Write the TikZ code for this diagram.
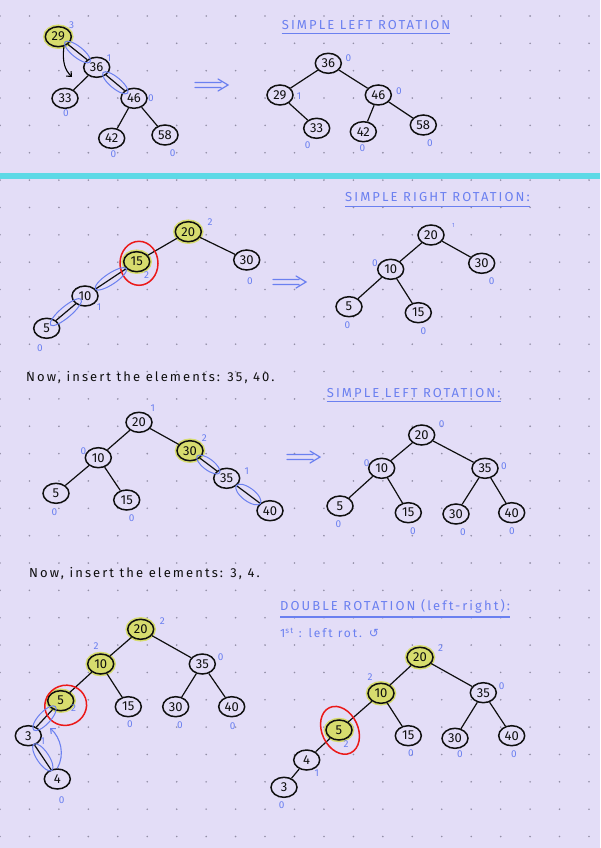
\documentclass[tikz,border=0pt]{standalone}
\usepackage{fontspec}
\setmainfont{Fira Sans}
\newfontfamily\fuenteTitulo[LetterSpace=16]{Fira Sans}
\newfontfamily\fuenteNota[LetterSpace=16]{Fira Sans}
\newfontfamily\fuenteSimbolo{DejaVu Sans}
\usetikzlibrary{arrows.meta}
\usetikzlibrary{shapes.geometric}
\definecolor{hojaFondo}{RGB}{227,221,247}
\definecolor{hojaPunto}{RGB}{146,142,166}
\definecolor{hojaSeparador}{RGB}{93,217,230}
\definecolor{tinta}{RGB}{15,15,15}
\definecolor{boli}{RGB}{107,128,240}
\definecolor{fosforito}{RGB}{215,220,110}
\definecolor{rojo}{RGB}{235,25,25}
\tikzset{
  nodo/.style={
    ellipse, draw=tinta, line width=1.5pt, fill=hojaFondo,
    minimum width=26pt, minimum height=20pt, inner sep=0pt,
    font=\fontsize{13}{13}\selectfont, text=tinta
  },
  nodoh/.style={
    nodo, fill=fosforito, preaction={draw=fosforito, line width=4.5pt}
  },
  arista/.style={draw=tinta, line width=1.2pt},
  fb/.style={text=boli, inner sep=0pt, font=\fontsize{10}{10}\selectfont},
  anillo/.style={
    ellipse, draw=boli, line width=1pt, minimum height=11pt,
    inner sep=0pt, sloped
  },
  cerco/.style={ellipse, draw=rojo, line width=1.5pt, inner sep=0pt},
  titulo/.style={
    anchor=west, inner sep=0pt, text=boli,
    font=\fuenteTitulo\fontsize{13}{13}\selectfont
  },
  subrayado/.style={draw=boli, line width=1.3pt},
  nota/.style={
    anchor=west, inner sep=0pt, text=tinta,
    font=\fuenteNota\fontsize{13}{13}\selectfont
  },
  notab/.style={nota, text=boli, font=\fuenteNota\fontsize{12}{12}\selectfont},
  giro/.style={-{Straight Barb[length=4pt, width=7pt]}, line width=1.1pt},
  implica/.pic={
    \draw[boli, line width=1.2pt, line cap=round]
      (-17,-2.5) -- (9,-2.5) (-17,2.5) -- (9,2.5)
      (6,-6) -- (16,0) -- (6,6);
  }
}

\begin{document}
\begin{tikzpicture}[x=1pt, y=-1pt]
  % hoja punteada
  \fill[hojaFondo] (0,0) rectangle (600,848);
  \useasboundingbox (0,0) rectangle (600,848);
  \foreach \i in {0,...,20}
    \foreach \j in {0,...,30}
      \fill[hojaPunto] (29.45*\i,16+27.35*\j) circle (0.9pt);
  \fill[hojaSeparador] (0,173) rectangle (600,179);

  % 1: antes de rotar
  \node[nodoh] (a29) at (58.3,36.7) {29};
  \node[nodo] (a36) at (96.7,67.3) {36};
  \node[nodo] (a33) at (65,98.3) {33};
  \node[nodo] (a46) at (134,98.3) {46};
  \node[nodo] (a42) at (111.7,138.3) {42};
  \node[nodo] (a58) at (165,135) {58};
  \draw[arista] (a29) -- (a36) (a36) -- (a33) (a36) -- (a46)
    (a46) -- (a42) (a46) -- (a58);
  \node[fb] (a29f) at (71.7,25) {3};
  \node[fb] (a36f) at (109,58) {1};
  \node[fb] (a33f) at (66,112.7) {0};
  \node[fb] (a46f) at (151,98.3) {0};
  \node[fb] (a42f) at (113.3,154) {0};
  \node[fb] (a58f) at (172.7,152.7) {0};
  \path (a29) -- node[anillo, minimum width=32pt] (a29an) {} (a36);
  \path (a36) -- node[anillo, minimum width=32pt] (a36an) {} (a46);
  \coordinate (agiro) at (72,77);
  \draw[giro] (a29.-60) .. controls (62,62) and (65,70) .. (agiro);
  \pic at (212,85) {implica};

  % 1: despues
  \node[titulo] (bTit) at (281.7,25) {SIMPLE LEFT ROTATION};
  \draw[subrayado] ([yshift=-4pt]bTit.south west) -- ([yshift=-4pt]bTit.south east);
  \node[nodo] (b36) at (328.3,63.3) {36};
  \node[nodo] (b29) at (280,95) {29};
  \node[nodo] (b46) at (378.3,95) {46};
  \node[nodo] (b33) at (316.7,128.3) {33};
  \node[nodo] (b42) at (363.3,131.7) {42};
  \node[nodo] (b58) at (423.3,125) {58};
  \draw[arista] (b36) -- (b29) (b36) -- (b46) (b29) -- (b33)
    (b46) -- (b42) (b46) -- (b58);
  \node[fb] (b36f) at (348.3,57.7) {0};
  \node[fb] (b29f) at (299,96) {1};
  \node[fb] (b46f) at (399,91) {0};
  \node[fb] (b33f) at (307.7,145) {0};
  \node[fb] (b42f) at (362.3,147.7) {0};
  \node[fb] (b58f) at (430,142.7) {0};

  % 2: antes de rotar
  \node[nodoh] (c20) at (188.3,231.7) {20};
  \node[nodo] (c30) at (246.7,260) {30};
  \node[nodoh] (c15) at (136.7,261.7) {15};
  \node[nodo] (c10) at (85,296) {10};
  \node[nodo] (c5) at (46.7,328.3) {5};
  \draw[arista] (c20) -- (c15) (c20) -- (c30) (c15) -- (c10) (c10) -- (c5);
  \node[fb] (c20f) at (210,221.7) {2};
  \node[fb] (c30f) at (250,281) {0};
  \node[fb] (c15f) at (146.7,275) {2};
  \node[fb] (c10f) at (99,306.7) {1};
  \node[fb] (c5f) at (40,347.7) {0};
  \node[cerco, minimum width=38pt, minimum height=44pt] (c15r) at (139,263.3) {};
  \path (c15) -- node[anillo, minimum width=37pt] (c15an) {} (c10);
  \path (c10) -- node[anillo, minimum width=40pt] (c10an) {} (c5);
  \pic at (290,282) {implica};

  % 2: despues
  \node[titulo] (dTit) at (345,197.5) {SIMPLE RIGHT ROTATION:};
  \draw[subrayado] ([yshift=-4pt]dTit.south west) -- ([yshift=-4pt]dTit.south east);
  \node[nodo] (d20) at (431,235) {20};
  \node[nodo] (d30) at (481.7,263.3) {30};
  \node[nodo] (d10) at (390.7,269.3) {10};
  \node[nodo] (d5) at (349,306.7) {5};
  \node[nodo] (d15) at (418.3,312.7) {15};
  \draw[arista] (d20) -- (d10) (d20) -- (d30) (d10) -- (d5) (d10) -- (d15);
  \node[fb, font=\fontsize{6}{6}\selectfont] (d20f) at (453.3,225) {1};
  \node[fb] (d30f) at (491.7,281) {0};
  \node[fb] (d10f) at (375,263.3) {0};
  \node[fb] (d5f) at (347.3,325) {0};
  \node[fb] (d15f) at (423.3,330.7) {0};

  \node[nota] (ins1) at (26,378) {Now, insert the elements: 35, 40.};

  % 3: antes de rotar
  \node[nodo] (e20) at (139,422.3) {20};
  \node[nodo] (e10) at (98.3,457.7) {10};
  \node[nodoh] (e30) at (190,450.7) {30};
  \node[nodo] (e35) at (226.7,478.3) {35};
  \node[nodo] (e40) at (270,510.7) {40};
  \node[nodo] (e5) at (56,493.3) {5};
  \node[nodo] (e15) at (126.7,500) {15};
  \draw[arista] (e20) -- (e10) (e20) -- (e30) (e10) -- (e5) (e10) -- (e15)
    (e30) -- (e35) (e35) -- (e40);
  \node[fb] (e20f) at (152.7,408.3) {1};
  \node[fb] (e10f) at (83.3,451) {0};
  \node[fb] (e30f) at (204.3,437.7) {2};
  \node[fb] (e35f) at (246.7,471) {1};
  \node[fb] (e5f) at (54.3,511.7) {0};
  \node[fb] (e15f) at (131.7,517.7) {0};
  \path (e30) -- node[anillo, minimum width=28pt] (e30an) {} (e35);
  \path (e35) -- node[anillo, minimum width=30pt, minimum height=13pt] (e35an) {} (e40);
  \pic at (304,457) {implica};

  % 3: despues
  \node[titulo] (fTit) at (326.7,393) {SIMPLE LEFT ROTATION:};
  \draw[subrayado] ([yshift=-4pt]fTit.south west) -- ([yshift=-4pt]fTit.south east);
  \node[nodo] (f20) at (421.7,435) {20};
  \node[nodo] (f10) at (381.7,468.3) {10};
  \node[nodo] (f35) at (485,468.3) {35};
  \node[nodo] (f5) at (340,506) {5};
  \node[nodo] (f15) at (408.3,512.7) {15};
  \node[nodo] (f30) at (456,514) {30};
  \node[nodo] (f40) at (511.7,512.7) {40};
  \draw[arista] (f20) -- (f10) (f20) -- (f35) (f10) -- (f5) (f10) -- (f15)
    (f35) -- (f30) (f35) -- (f40);
  \node[fb] (f20f) at (441.7,424) {0};
  \node[fb] (f10f) at (366.7,463.3) {0};
  \node[fb] (f35f) at (504,466) {0};
  \node[fb] (f5f) at (338.3,524) {0};
  \node[fb] (f15f) at (413,531) {0};
  \node[fb] (f30f) at (463,532) {0};
  \node[fb] (f40f) at (512,531) {0};

  \node[nota] (ins2) at (29,574) {Now, insert the elements: 3, 4.};

  % 4: antes de rotar
  \node[nodoh] (g20) at (140.7,629.3) {20};
  \node[nodoh] (g10) at (100.7,664) {10};
  \node[nodo] (g35) at (202.3,664) {35};
  \node[nodoh] (g5) at (60.7,700.7) {5};
  \node[nodo] (g15) at (128.3,706.7) {15};
  \node[nodo] (g30) at (175.7,706.7) {30};
  \node[nodo] (g40) at (231.7,706.7) {40};
  \node[nodo] (g3) at (28.3,735.7) {3};
  \node[nodo] (g4) at (57.3,779) {4};
  \draw[arista] (g20) -- (g10) (g20) -- (g35) (g10) -- (g5) (g10) -- (g15)
    (g35) -- (g30) (g35) -- (g40) (g5) -- (g3) (g3) -- (g4);
  \node[fb] (g20f) at (162.3,620.7) {2};
  \node[fb] (g10f) at (96,645.7) {2};
  \node[fb] (g35f) at (220.7,657.3) {0};
  \node[fb] (g5f) at (73.5,708.3) {2};
  \node[fb] (g15f) at (130,724.3) {0};
  \node[fb] (g30f) at (180,725) {0};
  \node[fb] (g40f) at (232.7,725.7) {0};
  \node[fb] (g3f) at (42.7,740.7) {1};
  \node[fb] (g4f) at (61.7,800) {0};
  \node[cerco, minimum width=42pt, minimum height=40pt, rotate=20] (g5r) at (65.7,705.3) {};
  \path (g5) -- node[anillo, minimum width=32pt, minimum height=12pt] (g5an) {} (g3);
  \path (g3) -- node[anillo, minimum width=32pt, minimum height=12pt] (g3an) {} (g4);
  \coordinate (ggiro) at (50,728);
  \draw[giro, draw=boli] (g4.north) .. controls (65,755) and (61,738) .. (ggiro);

  % 4: primera rotacion
  \node[titulo] (hTit) at (280,606) {DOUBLE ROTATION (left-right):};
  \draw[subrayado] ([yshift=-4pt]hTit.south west) -- ([yshift=-4pt]hTit.south east);
  \node[notab] (hSub) at (280,633) {1\textsuperscript{st} : left rot. {\fuenteSimbolo ↺}};
  \node[nodoh] (h20) at (420,657.3) {20};
  \node[nodoh] (h10) at (381,693.3) {10};
  \node[nodo] (h35) at (483.3,692.7) {35};
  \node[nodoh] (h5) at (339,730) {5};
  \node[nodo] (h15) at (408.3,735.7) {15};
  \node[nodo] (h30) at (455,738.3) {30};
  \node[nodo] (h40) at (511.7,735.7) {40};
  \node[nodo] (h4) at (306.7,760) {4};
  \node[nodo] (h3) at (284,787.3) {3};
  \draw[arista] (h20) -- (h10) (h20) -- (h35) (h10) -- (h5) (h10) -- (h15)
    (h35) -- (h30) (h35) -- (h40) (h5) -- (h4) (h4) -- (h3);
  \node[fb] (h20f) at (440.7,648.3) {2};
  \node[fb] (h10f) at (370,677.3) {2};
  \node[fb] (h35f) at (501.7,686) {0};
  \node[fb] (h5f) at (346,744) {2};
  \node[fb] (h15f) at (411,753.3) {0};
  \node[fb] (h30f) at (460,754.3) {0};
  \node[fb] (h40f) at (514,754.3) {0};
  \node[fb] (h4f) at (316.7,772.7) {1};
  \node[fb] (h3f) at (281.7,805) {0};
  \node[cerco, minimum width=36pt, minimum height=50pt, rotate=25] (h5r) at (340,730.3) {};
\end{tikzpicture}
\end{document}
